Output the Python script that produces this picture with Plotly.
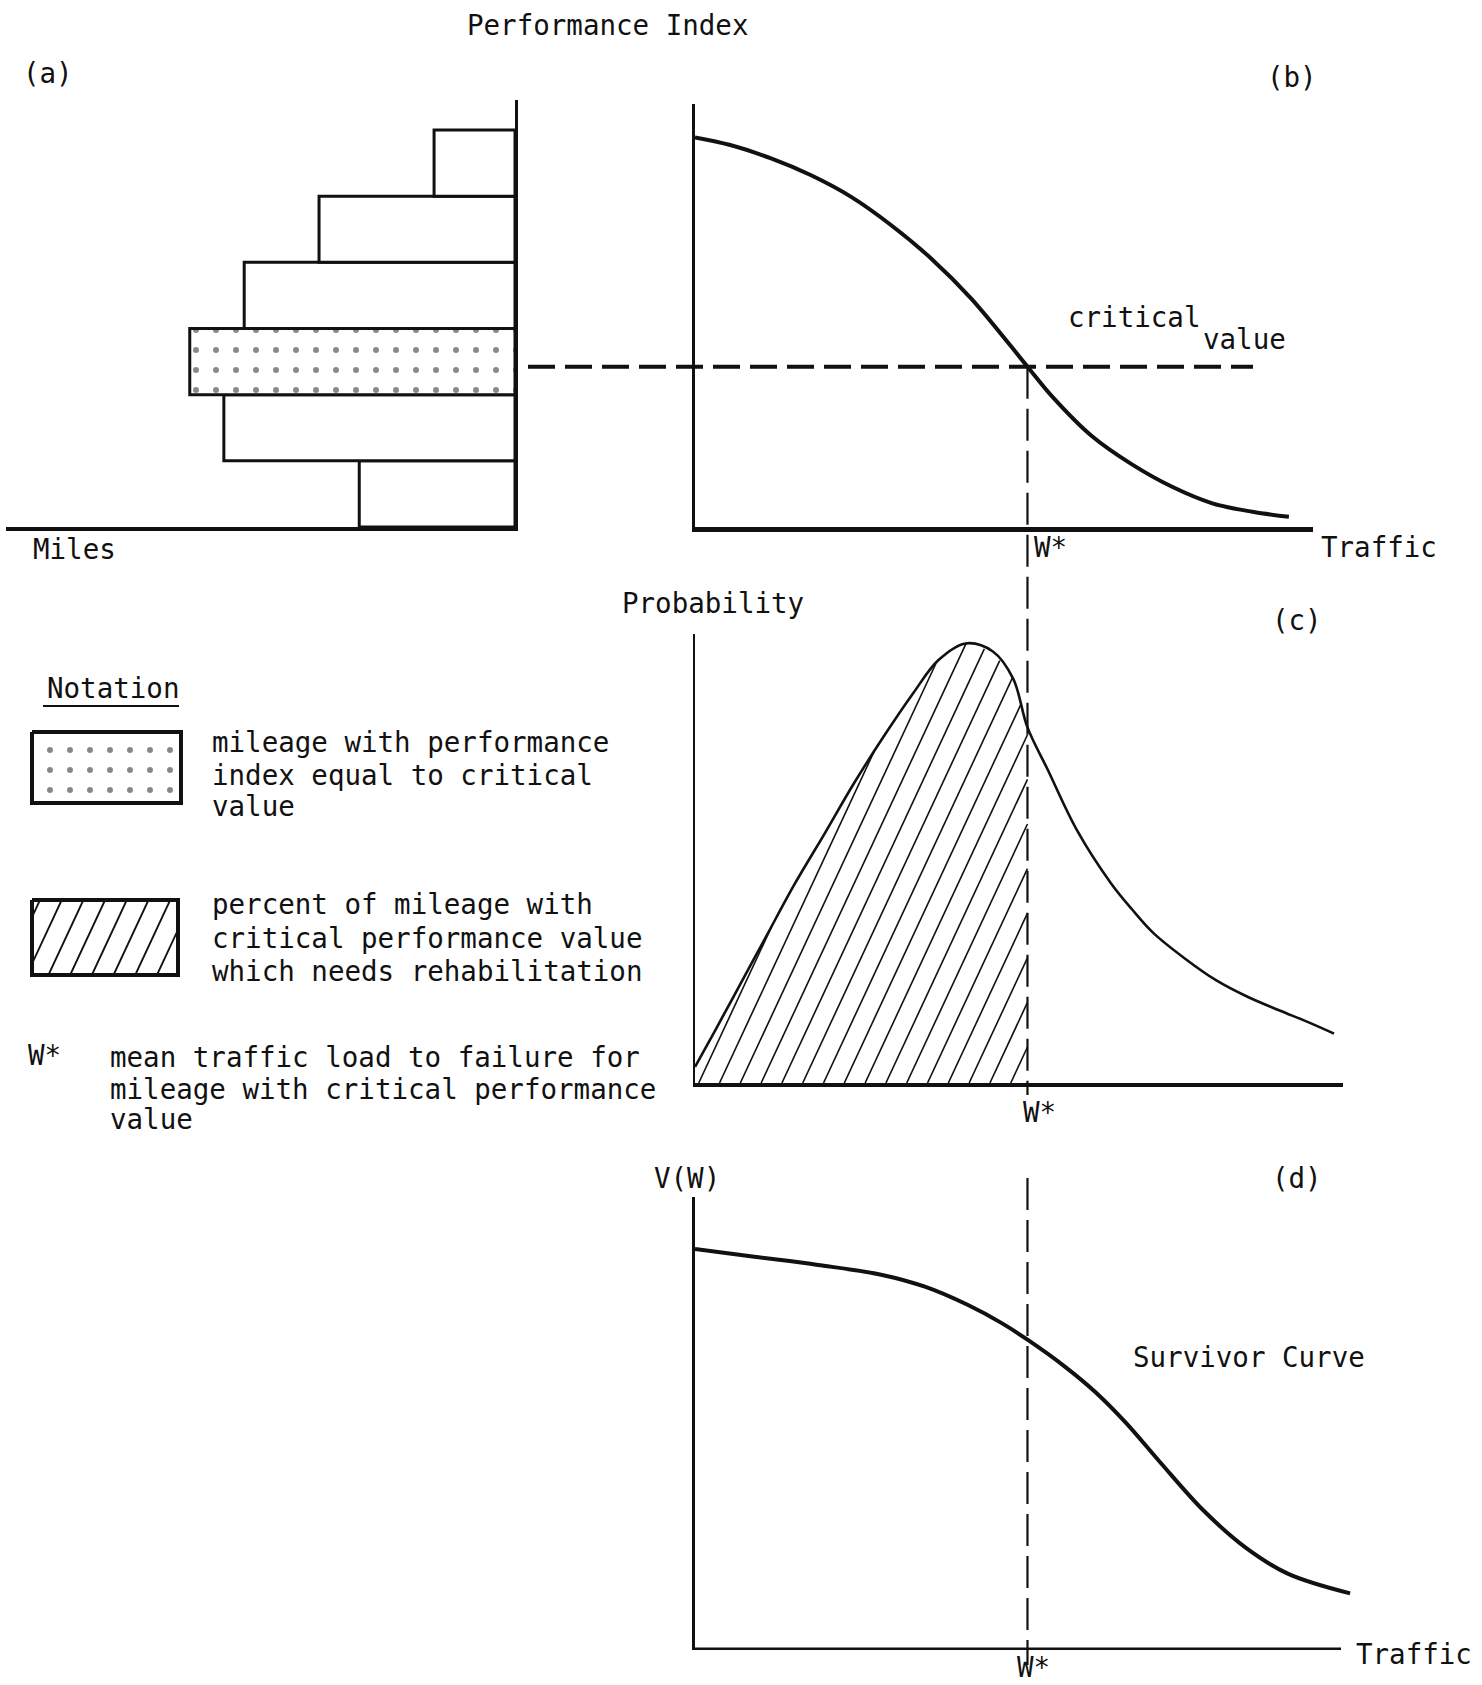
import numpy as np
import plotly.graph_objects as go

W, H = 1482, 1685
FONT = "DejaVu Sans Mono"
FS = 27.5
INK = "#111111"

# ---------------- data ----------------
# (a) miles of road in each performance-index class (bottom class first)
pi_class = [0.5, 1.5, 2.5, 3.5, 4.5, 5.5]
miles = [30.6, 57.2, 63.9, 53.2, 38.5, 15.9]
critical_class = 2          # class whose index equals the critical value

# (b) performance index against traffic
traffic_b = [0, 5.7, 12.2, 18.7, 25.2, 31.7, 38.2, 44.7, 53.8, 57.7, 64.2, 70.7, 77.2, 83.7, 90.2, 96.1]
pindex_b = [92.1, 90.3, 87.2, 83.2, 78.1, 71.4, 63.5, 54.0, 37.9, 31.0, 21.5, 14.8, 9.5, 5.6, 3.6, 2.4]
CRITICAL = 37.9             # critical performance value
W_STAR = 53.8               # mean traffic load to failure

# (c) probability density of traffic to failure
traffic_c = [0, 3.3, 7.4, 11.5, 16.2, 21.0, 25.7, 30.5, 35.3, 39.4, 43.8, 48.2, 51.5,
             53.8, 57.1, 61.8, 67.3, 70.7, 74.1, 79.2, 84.3, 89.4, 94.5, 99.3, 103.4]
prob_c = [3.6, 11.8, 22.2, 32.6, 44.5, 55.6, 66.7, 77.1, 86.8, 94.2, 97.9, 96.1, 90.0,
          79.2, 69.7, 56.3, 44.5, 38.7, 33.5, 27.8, 22.9, 19.2, 16.2, 13.5, 11.0]

# (d) survivor curve V(W)
traffic_d = [0, 9.6, 19.9, 30.3, 37.2, 44.1, 49.7, 53.8, 60.0, 64.9, 69.7, 75.3, 82.2, 89.1, 96.0, 106.0]
surv_d = [88.5, 86.8, 85.0, 82.8, 80.2, 76.2, 72.1, 68.5, 62.4, 56.8, 50.2, 41.4, 30.9, 22.6, 16.8, 12.5]

# ---------------- page geometry (pixels) ----------------
def px(x):
    return x / W


def py(y):
    return 1 - y / H


# panel boxes: left, right, top, bottom
BOX_A = (6, 515, 100, 527)
BOX_B = (695, 1313, 104, 527)
BOX_C = (695, 1343, 634, 1083)
BOX_D = (695, 1355, 1197, 1650)
UNIT_PX = (BOX_B[1] - BOX_B[0]) / 100.0   # pixels per traffic unit, shared by b, c, d


def xdom(box):
    return [px(box[0]), px(box[1])]


def ydom(box):
    return [py(box[3]), py(box[2])]


fig = go.Figure()

# ---------------- (a) histogram of mileage ----------------
pattern_shapes = ["." if i == critical_class else "" for i in range(len(pi_class))]
fig.add_trace(go.Bar(
    orientation="h", y=pi_class, x=miles, width=1.0,
    xaxis="x", yaxis="y",
    marker=dict(color="white", line=dict(color=INK, width=3),
                pattern=dict(shape=pattern_shapes, fgcolor=INK, bgcolor="white",
                             size=20, solidity=0.07)),
    showlegend=False, hoverinfo="skip"))

# ---------------- (b) performance curve ----------------
fig.add_trace(go.Scatter(
    x=traffic_b, y=pindex_b, mode="lines", xaxis="x2", yaxis="y2",
    line=dict(color=INK, width=4, shape="spline", smoothing=1.0),
    showlegend=False, hoverinfo="skip"))

# ---------------- (c) density with hatched area up to W* ----------------
ppu_y_c = (BOX_C[3] - BOX_C[2]) / 100.0
hatch_slope = np.tan(np.radians(65)) * UNIT_PX / ppu_y_c
hatch_step = 20.8 / UNIT_PX
hx, hy = [], []
for x0 in np.arange(0.6, W_STAR, hatch_step):
    xs = np.linspace(x0, W_STAR, 3000)
    ys = hatch_slope * (xs - x0)
    above = ys > np.interp(xs, traffic_c, prob_c)
    k = int(np.argmax(above)) if above.any() else len(xs) - 1
    hx += [x0, xs[k], None]
    hy += [0, ys[k], None]
fig.add_trace(go.Scatter(
    x=hx, y=hy, mode="lines", xaxis="x3", yaxis="y3",
    line=dict(color=INK, width=1.6), connectgaps=False,
    showlegend=False, hoverinfo="skip"))
fig.add_trace(go.Scatter(
    x=traffic_c, y=prob_c, mode="lines", xaxis="x3", yaxis="y3",
    line=dict(color=INK, width=2.6, shape="spline", smoothing=1.0),
    showlegend=False, hoverinfo="skip"))

# ---------------- (d) survivor curve ----------------
fig.add_trace(go.Scatter(
    x=traffic_d, y=surv_d, mode="lines", xaxis="x4", yaxis="y4",
    line=dict(color=INK, width=4, shape="spline", smoothing=1.0),
    showlegend=False, hoverinfo="skip"))

# ---------------- notation swatches (page-pixel axes) ----------------
SW_DOT = (32, 181, 732, 803)
SW_HATCH = (32, 178, 900, 975)
fig.add_trace(go.Scatter(
    x=[SW_DOT[0], SW_DOT[1], SW_DOT[1], SW_DOT[0], SW_DOT[0]],
    y=[SW_DOT[2], SW_DOT[2], SW_DOT[3], SW_DOT[3], SW_DOT[2]],
    mode="lines", fill="toself", fillcolor="white", xaxis="x5", yaxis="y5",
    fillpattern=dict(shape=".", fgcolor=INK, bgcolor="white", size=20, solidity=0.07),
    line=dict(color=INK, width=4), showlegend=False, hoverinfo="skip"))

cot = 1 / np.tan(np.radians(65))
lx, ly = [], []
span = SW_HATCH[3] - SW_HATCH[2]
for c in np.arange(SW_HATCH[0] - span * cot + 8, SW_HATCH[1], 21.7):
    yy = np.linspace(SW_HATCH[3], SW_HATCH[2], 400)
    xx = c + (SW_HATCH[3] - yy) * cot
    keep = (xx >= SW_HATCH[0]) & (xx <= SW_HATCH[1])
    if keep.sum() < 2:
        continue
    lx += [xx[keep][0], xx[keep][-1], None]
    ly += [yy[keep][0], yy[keep][-1], None]
fig.add_trace(go.Scatter(
    x=lx, y=ly, mode="lines", xaxis="x5", yaxis="y5",
    line=dict(color=INK, width=1.8), connectgaps=False,
    showlegend=False, hoverinfo="skip"))
fig.add_trace(go.Scatter(
    x=[SW_HATCH[0], SW_HATCH[1], SW_HATCH[1], SW_HATCH[0], SW_HATCH[0]],
    y=[SW_HATCH[2], SW_HATCH[2], SW_HATCH[3], SW_HATCH[3], SW_HATCH[2]],
    mode="lines", xaxis="x5", yaxis="y5",
    line=dict(color=INK, width=4), showlegend=False, hoverinfo="skip"))

# ---------------- axes ----------------
def axis(domain, rng, line=True, width=3, side=None, anchor=None):
    d = dict(domain=domain, range=rng, showgrid=False, zeroline=False,
             showticklabels=False, ticks="", showline=line, linecolor=INK,
             linewidth=width, fixedrange=True)
    if side:
        d["side"] = side
    if anchor:
        d["anchor"] = anchor
    return d


range_a_y = (BOX_A[3] - BOX_A[2]) / ((BOX_A[3] - BOX_A[2] - 30) / 6.0)
fig.update_layout(
    width=W, height=H, margin=dict(l=0, r=0, t=0, b=0),
    paper_bgcolor="white", plot_bgcolor="rgba(0,0,0,0)",
    xaxis=axis(xdom(BOX_A), [100, 0], width=4, anchor="y"),
    yaxis=axis(ydom(BOX_A), [0, range_a_y], width=3, side="right", anchor="x"),
    xaxis2=axis(xdom(BOX_B), [0, 100], width=5, anchor="y2"),
    yaxis2=axis(ydom(BOX_B), [0, 100], width=3, anchor="x2"),
    xaxis3=axis(xdom(BOX_C), [0, (BOX_C[1] - BOX_C[0]) / UNIT_PX], width=4, anchor="y3"),
    yaxis3=axis(ydom(BOX_C), [0, 100], width=2, anchor="x3"),
    xaxis4=axis(xdom(BOX_D), [0, (BOX_D[1] - BOX_D[0]) / UNIT_PX], line=False, anchor="y4"),
    yaxis4=axis(ydom(BOX_D), [0, 100], width=3, anchor="x4"),
    xaxis5=dict(domain=[0, 1], range=[0, W], visible=False, fixedrange=True, anchor="y5"),
    yaxis5=dict(domain=[0, 1], range=[H, 0], visible=False, fixedrange=True, anchor="x5"),
)

# ---------------- reference lines ----------------
crit_paper = ydom(BOX_B)[0] + CRITICAL / 100.0 * (ydom(BOX_B)[1] - ydom(BOX_B)[0])
shapes = [
    # critical value carried across from the histogram
    dict(type="line", xref="paper", yref="y2", x0=px(528), x1=px(1253),
         y0=CRITICAL, y1=CRITICAL, line=dict(color=INK, width=4, dash="27px,10px")),
    # W* dropped through panels b, c and d
    dict(type="line", xref="x2", yref="paper", x0=W_STAR, x1=W_STAR,
         y0=crit_paper, y1=py(1095), line=dict(color=INK, width=2.2, dash="32px,10px")),
    dict(type="line", xref="x2", yref="paper", x0=W_STAR, x1=W_STAR,
         y0=py(1178), y1=py(1665), line=dict(color=INK, width=2.2, dash="32px,10px")),
    # traffic axis of panel d
    dict(type="line", xref="paper", yref="y4", x0=px(695), x1=px(1341),
         y0=0, y1=0, line=dict(color=INK, width=5)),
    # underline of "Notation"
    dict(type="line", xref="paper", yref="paper", x0=px(43), x1=px(179),
         y0=py(706), y1=py(706), line=dict(color=INK, width=2)),
]
fig.update_layout(shapes=shapes)

# ---------------- text ----------------
labels = [
    ("Performance Index", 465, 25),
    ("(a)", 21, 73),
    ("(b)", 1265, 77),
    ("Miles", 31, 549),
    ("critical", 1066, 317),
    ("value", 1201, 339),
    ("W*", 1032, 547),
    ("Traffic", 1319, 547),
    ("Probability", 620, 603),
    ("(c)", 1270, 620),
    ("Notation", 45, 688),
    ("mileage with performance", 210, 742),
    ("index equal to critical", 210, 775),
    ("value", 210, 806),
    ("percent of mileage with", 210, 904),
    ("critical performance value", 210, 938),
    ("which needs rehabilitation", 210, 971),
    ("W*", 26, 1055),
    ("mean traffic load to failure for", 108, 1057),
    ("mileage with critical performance", 108, 1089),
    ("value", 108, 1119),
    ("W*", 1021, 1112),
    ("V(W)", 652, 1178),
    ("(d)", 1270, 1178),
    ("Survivor Curve", 1131, 1357),
    ("Traffic", 1354, 1654),
    ("W*", 1015, 1667),
]
fig.update_layout(annotations=[
    dict(text=t, x=px(x), y=py(y), xref="paper", yref="paper",
         xanchor="left", yanchor="middle", showarrow=False,
         font=dict(family=FONT, size=FS, color=INK))
    for t, x, y in labels
])

fig.write_html("out.html")
